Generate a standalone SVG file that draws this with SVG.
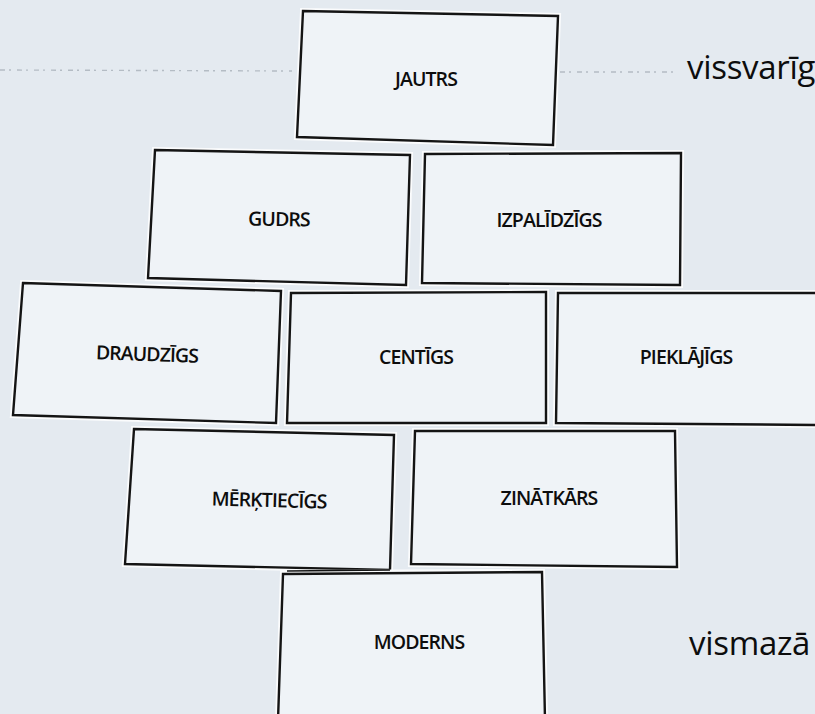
<svg xmlns="http://www.w3.org/2000/svg" width="815" height="714" viewBox="0 0 815 714">
<style>
.card{fill:#eff3f7;stroke:#141414;stroke-width:2.4;stroke-linejoin:miter}
.edge{fill:none;stroke:#fbfcfd;stroke-width:6}
.lbl{font-family:"Open Sans","Noto Sans","Liberation Sans",sans-serif;font-size:19.5px;font-weight:600;fill:#0d0d0d;text-anchor:middle;letter-spacing:-0.9px}
.big{font-family:"Open Sans","Noto Sans","Liberation Sans",sans-serif;font-size:33px;font-weight:400;fill:#0d0d0d;letter-spacing:-0.3px}
.dash{stroke:#b4bcc4;stroke-width:1.4;stroke-dasharray:5 4 2 6;fill:none}
</style>
<rect width="815" height="714" fill="#e4eaf0"/>
<g id="connectors">
<path class="dash" d="M0 70 L292 71"/>
<path class="dash" d="M560 72 L676 72"/>
</g>
<g id="jautrs">
<polygon class="edge" points="303,11 558,16 553,145 297,137"/>
<polygon class="card" points="303,11 558,16 553,145 297,137"/>
<text class="lbl" x="426" y="86">JAUTRS</text>
</g>
<g id="gudrs">
<polygon class="edge" points="155,150 410,155 406,285 148,278"/>
<polygon class="card" points="155,150 410,155 406,285 148,278"/>
<text class="lbl" x="279" y="226" transform="rotate(1 279 220)">GUDRS</text>
</g>
<g id="izpalidzigs">
<polygon class="edge" points="425,154 681,153 680,285 422,283"/>
<polygon class="card" points="425,154 681,153 680,285 422,283"/>
<text class="lbl" x="549" y="227">IZPALĪDZĪGS</text>
</g>
<g id="draudzigs">
<polygon class="edge" points="23,283 281,291 276,423 13,415"/>
<polygon class="card" points="23,283 281,291 276,423 13,415"/>
<text class="lbl" x="147" y="361" transform="rotate(2 147 355)">DRAUDZĪGS</text>
</g>
<g id="centigs">
<polygon class="edge" points="291,293 546,292 546,423 287,423"/>
<polygon class="card" points="291,293 546,292 546,423 287,423"/>
<text class="lbl" x="416" y="364">CENTĪGS</text>
</g>
<g id="pieklajigs">
<polygon class="edge" points="558,293 822,293 822,425 556,423"/>
<polygon class="card" points="558,293 822,293 822,425 556,423"/>
<text class="lbl" x="686" y="364">PIEKLĀJĪGS</text>
</g>
<g id="merktiecigs">
<polygon class="edge" points="134,429 394,435 390,570 125,564"/>
<polygon class="card" points="134,429 394,435 390,570 125,564"/>
<text class="lbl" x="269" y="507" transform="rotate(1.5 269 501)">MĒRĶTIECĪGS</text>
</g>
<g id="zinatkars">
<polygon class="edge" points="415,431 675,431 677,567 411,564"/>
<polygon class="card" points="415,431 675,431 677,567 411,564"/>
<text class="lbl" x="549" y="505">ZINĀTKĀRS</text>
</g>
<g id="moderns">
<polygon class="edge" points="283,573 542,572 545,720 278,720"/>
<path d="M287 571 L390 570" stroke="#141414" stroke-width="1.6" fill="none"/>
<polygon class="card" points="283,574 542,572 545,720 278,720"/>
<text class="lbl" x="419" y="649">MODERNS</text>
</g>
<text class="big" x="687" y="79">vissvarīg</text>
<text class="big" x="689" y="655">vismazā</text>
</svg>
